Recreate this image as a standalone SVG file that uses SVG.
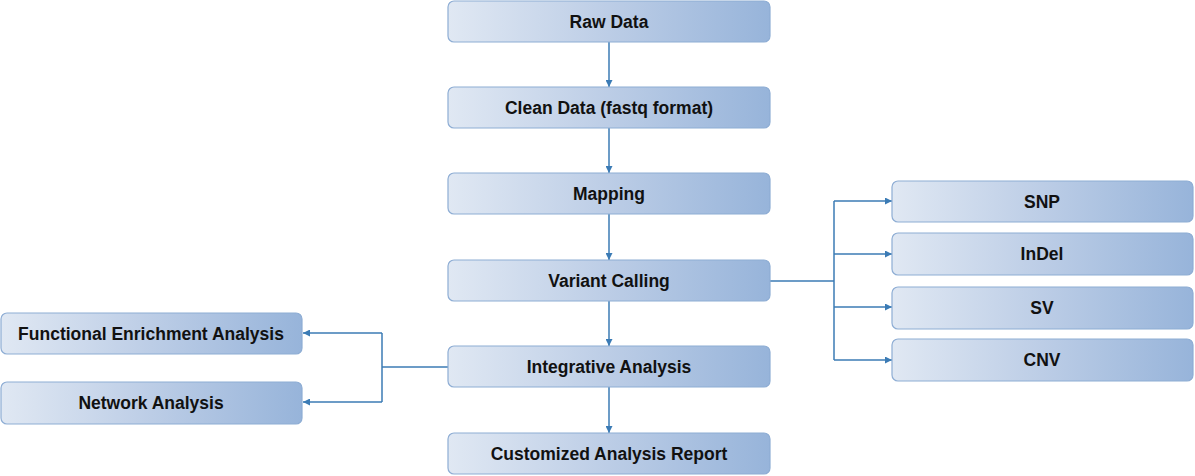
<svg xmlns="http://www.w3.org/2000/svg" width="1195" height="476" viewBox="0 0 1195 476">
<defs>
<linearGradient id="g" x1="0" y1="0" x2="1" y2="0">
<stop offset="0" stop-color="#e0e8f3"/>
<stop offset="0.5" stop-color="#bccde6"/>
<stop offset="1" stop-color="#97b4da"/>
</linearGradient>
<marker id="ah" viewBox="0 0 10 10" refX="10" refY="5" markerWidth="7" markerHeight="7" orient="auto" markerUnits="userSpaceOnUse">
<path d="M0,0 L10,5 L0,10 Z" fill="#3b7bb5"/>
</marker>
<style>
.box{fill:url(#g);stroke:#8eadd4;stroke-width:1.2}
.t{font-family:"Liberation Sans",Arial,sans-serif;font-weight:bold;font-size:17.5px;fill:#111;text-anchor:middle;dominant-baseline:central}
.c{fill:none;stroke:#3b7bb5;stroke-width:1.5}
</style>
</defs>
<g id="connectors">
<path class="c" d="M609,42 V87" marker-end="url(#ah)"/>
<path class="c" d="M609,128 V173" marker-end="url(#ah)"/>
<path class="c" d="M609,214 V260" marker-end="url(#ah)"/>
<path class="c" d="M609,301 V346" marker-end="url(#ah)"/>
<path class="c" d="M609,387 V433" marker-end="url(#ah)"/>
<path class="c" d="M770,281 H834"/>
<path class="c" d="M834,201 V360"/>
<path class="c" d="M834,201 H892" marker-end="url(#ah)"/>
<path class="c" d="M834,254 H892" marker-end="url(#ah)"/>
<path class="c" d="M834,307 H892" marker-end="url(#ah)"/>
<path class="c" d="M834,360 H892" marker-end="url(#ah)"/>
<path class="c" d="M448,367 H382"/>
<path class="c" d="M382,333 V402"/>
<path class="c" d="M382,333 H303" marker-end="url(#ah)"/>
<path class="c" d="M382,402 H303" marker-end="url(#ah)"/>
</g>
<g id="raw"><rect class="box" x="448" y="1" width="322" height="41" rx="6"/><text class="t" x="609" y="22">Raw Data</text></g>
<g id="clean"><rect class="box" x="448" y="87" width="322" height="41" rx="6"/><text class="t" x="609" y="108">Clean Data (fastq format)</text></g>
<g id="mapping"><rect class="box" x="448" y="173" width="322" height="41" rx="6"/><text class="t" x="609" y="194">Mapping</text></g>
<g id="variant"><rect class="box" x="448" y="260" width="322" height="41" rx="6"/><text class="t" x="609" y="281">Variant Calling</text></g>
<g id="integrative"><rect class="box" x="448" y="346" width="322" height="41" rx="6"/><text class="t" x="609" y="367">Integrative Analysis</text></g>
<g id="report"><rect class="box" x="448" y="433" width="322" height="41" rx="6"/><text class="t" x="609" y="454">Customized Analysis Report</text></g>
<g id="snp"><rect class="box" x="892" y="181" width="301" height="41" rx="6"/><text class="t" x="1042" y="202">SNP</text></g>
<g id="indel"><rect class="box" x="892" y="233" width="301" height="42" rx="6"/><text class="t" x="1042" y="254">InDel</text></g>
<g id="sv"><rect class="box" x="892" y="287" width="301" height="42" rx="6"/><text class="t" x="1042" y="308">SV</text></g>
<g id="cnv"><rect class="box" x="892" y="339" width="301" height="42" rx="6"/><text class="t" x="1042" y="360">CNV</text></g>
<g id="functional"><rect class="box" x="1" y="313" width="301" height="41" rx="6"/><text class="t" x="151" y="334">Functional Enrichment Analysis</text></g>
<g id="network"><rect class="box" x="1" y="382" width="301" height="42" rx="6"/><text class="t" x="151" y="403">Network Analysis</text></g>
</svg>
